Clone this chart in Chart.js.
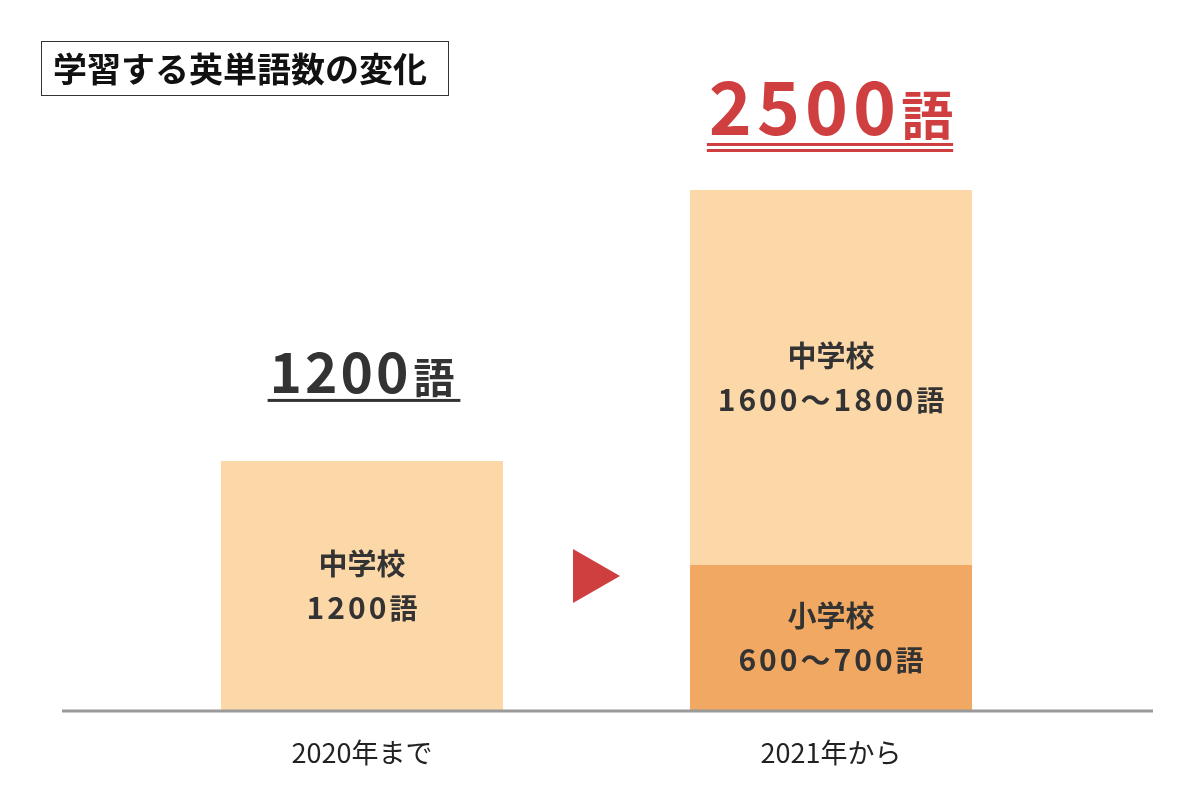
<!DOCTYPE html>
<html><head><meta charset="utf-8">
<script src="https://cdn.jsdelivr.net/npm/chart.js@4.4.1/dist/chart.umd.min.js"></script>
<style>html,body{margin:0;padding:0;background:#fff}</style>
</head><body>
<canvas id="c" width="1200" height="800" style="width:1200px;height:800px;display:block"></canvas>
<script>
// ---- data ----
const categories = ['2020年まで', '2021年から'];
const elementaryValues = [null, 700];
const juniorValues = [1200, 1800];
const elementaryName = '小学校';
const juniorName = '中学校';
const elementaryTexts = [null, '600～700語'];
const juniorTexts = ['1200語', '1600～1800語'];
const totalNumbers = ['1200', '2500'];
const totalUnit = '語';
const chartTitle = '学習する英単語数の変化';
const yMax = 2500;

const FONT = '"Noto Sans CJK JP", "Noto Sans", sans-serif';
const DARK = '#333333';
const RED = '#cf3f3f';

function drawMixed(ctx, parts, cx, baseline) {
  let total = 0;
  parts.forEach(p => {
    ctx.font = `bold ${p.size}px ${FONT}`;
    ctx.letterSpacing = (p.spacing || 0) + 'px';
    p.w = ctx.measureText(p.text).width;
    total += p.w + (p.gap || 0);
  });
  let x = cx - total / 2;
  ctx.textAlign = 'left';
  ctx.textBaseline = 'alphabetic';
  parts.forEach(p => {
    ctx.font = `bold ${p.size}px ${FONT}`;
    ctx.letterSpacing = (p.spacing || 0) + 'px';
    ctx.fillText(p.text, x, baseline);
    x += p.w + (p.gap || 0);
  });
  ctx.letterSpacing = '0px';
  return {left: cx - total / 2, right: cx + total / 2};
}

const decor = {
  id: 'decor',
  afterDatasetsDraw(chart) {
    const ctx = chart.ctx;
    const xs = chart.scales.x, ys = chart.scales.y;
    ctx.save();
    ctx.fillStyle = DARK;
    const y0 = ys.getPixelForValue(0);
    categories.forEach((c, i) => {
      const cx = xs.getPixelForValue(i);
      const e = elementaryValues[i] || 0;
      const j = juniorValues[i] || 0;
      if (elementaryValues[i]) {
        const mid = (y0 + ys.getPixelForValue(e)) / 2;
        drawMixed(ctx, [{text: elementaryName, size: 29}], cx, mid - 11);
        drawMixed(ctx, [{text: elementaryTexts[i].replace('語',''), size: 30, spacing: 3}, {text: '語', size: 28}], cx, mid + 33);
      }
      if (juniorValues[i]) {
        const mid = (ys.getPixelForValue(e) + ys.getPixelForValue(e + j)) / 2;
        drawMixed(ctx, [{text: juniorName, size: 29}], cx, mid - 11);
        drawMixed(ctx, [{text: juniorTexts[i].replace('語',''), size: 30, spacing: 3}, {text: '語', size: 28}], cx, mid + 33);
      }
    });
    // baseline
    ctx.strokeStyle = '#9a9a9a';
    ctx.lineWidth = 3;
    ctx.beginPath();
    ctx.moveTo(62, y0);
    ctx.lineTo(1153, y0);
    ctx.stroke();

    // totals
    const offsets = [68, 55];
    categories.forEach((c, i) => {
      const cx = xs.getPixelForValue(i);
      const total = (elementaryValues[i] || 0) + (juniorValues[i] || 0);
      const top = ys.getPixelForValue(total);
      const base = top - offsets[i];
      if (i === 1) {
        ctx.fillStyle = RED;
        const r = drawMixed(ctx, [{text: totalNumbers[i], size: 73, spacing: 5, gap: 0}, {text: totalUnit, size: 52}], cx, base);
        ctx.fillRect(r.left - 2, base + 8, r.right - r.left + 2, 3);
        ctx.fillRect(r.left - 2, base + 14, r.right - r.left + 2, 3);
      } else {
        ctx.fillStyle = DARK;
        const r = drawMixed(ctx, [{text: totalNumbers[i], size: 55, spacing: 3, gap: 2}, {text: totalUnit, size: 41}], cx, base);
        ctx.fillRect(r.left - 2, base + 6, r.right - r.left + 8, 3);
      }
    });

    // arrow triangle
    const mx = (xs.getPixelForValue(0) + xs.getPixelForValue(1)) / 2;
    const my = y0 - 135;
    ctx.fillStyle = RED;
    ctx.beginPath();
    ctx.moveTo(mx - 23.5, my - 27);
    ctx.lineTo(mx + 23.5, my);
    ctx.lineTo(mx - 23.5, my + 27);
    ctx.closePath();
    ctx.fill();

    // title box
    ctx.fillStyle = '#fff';
    ctx.fillRect(41, 41, 408, 55);
    ctx.strokeStyle = '#333';
    ctx.lineWidth = 1;
    ctx.strokeRect(41.5, 41.5, 407, 54);
    ctx.fillStyle = '#111';
    ctx.font = `bold 34px ${FONT}`;
    ctx.textAlign = 'left';
    ctx.textBaseline = 'middle';
    ctx.fillText(chartTitle, 53, 69);
    ctx.restore();
  }
};

new Chart(document.getElementById('c'), {
  type: 'bar',
  data: {
    labels: categories,
    datasets: [
      { label: elementaryName, data: elementaryValues, backgroundColor: '#f0a862', borderWidth: 0 },
      { label: juniorName, data: juniorValues, backgroundColor: '#fcd7a8', borderWidth: 0 }
    ]
  },
  options: {
    responsive: false,
    animation: false,
    devicePixelRatio: 1,
    layout: { padding: { left: 127.5, right: 134.5, top: 190, bottom: 4.6 } },
    plugins: { legend: { display: false }, tooltip: { enabled: false } },
    datasets: { bar: { categoryPercentage: 0.6013, barPercentage: 1 } },
    scales: {
      x: {
        stacked: true,
        grid: { display: false, drawTicks: false },
        border: { display: false },
        ticks: { color: '#222', padding: 26, font: { family: FONT, size: 27, weight: 'normal' } }
      },
      y: { stacked: true, display: false, min: 0, max: yMax }
    }
  },
  plugins: [decor]
});
</script>
</body></html>
